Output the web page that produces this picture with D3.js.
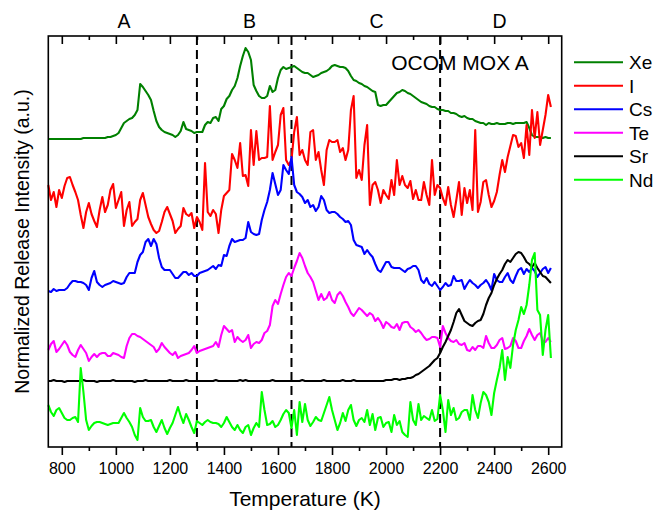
<!DOCTYPE html>
<html><head><meta charset="utf-8">
<script src="https://cdn.jsdelivr.net/npm/d3@7"></script>
<style>body{margin:0;background:#fff}svg{display:block}text{font-family:"Liberation Sans",Arial,sans-serif;fill:#000}</style>
</head><body><svg id="c" width="670" height="515"></svg>
<script>
// Temperature sampling grid (K)
const temps = [
750,760,770,780,790,800,810,820,830,840,
850,860,870,880,890,900,910,920,930,940,
950,960,970,980,990,1000,1010,1020,1030,1040,
1050,1060,1070,1080,1090,1100,1110,1120,1130,1140,
1150,1160,1170,1180,1190,1200,1210,1220,1230,1240,
1250,1260,1270,1280,1290,1300,1310,1320,1330,1340,
1350,1360,1370,1380,1390,1400,1410,1420,1430,1440,
1450,1460,1470,1480,1490,1500,1510,1520,1530,1540,
1550,1560,1570,1580,1590,1600,1610,1620,1630,1640,
1650,1660,1670,1680,1690,1700,1710,1720,1730,1740,
1750,1760,1770,1780,1790,1800,1810,1820,1830,1840,
1850,1860,1870,1880,1890,1900,1910,1920,1930,1940,
1950,1960,1970,1980,1990,2000,2010,2020,2030,2040,
2050,2060,2070,2080,2090,2100,2110,2120,2130,2140,
2150,2160,2170,2180,2190,2200,2210,2220,2230,2240,
2250,2260,2270,2280,2290,2300,2310,2320,2330,2340,
2350,2360,2370,2380,2390,2400,2410,2420,2430,2440,
2450,2460,2470,2480,2490,2500,2510,2520,2530,2540,
2550,2560,2570,2580,2590,2600,2610];

// Offset normalized release intensities (a.u.)
const xe = [
308,308,308,308,308,308,308,308,308,308,
308,308,308,309,309,309,309,309,309,309,
309,309,310,310,311,312,314,319,324,326,
328,329,332,337,363,360,356,352,347,336,
326,320,317,315,314,313,312,310,312,316,
325,318,317,316,314,315,315,315,322,325,
324,329,330,326,338,341,348,351,357,361,
369,381,391,399,395,387,362,356,351,349,
349,351,361,355,357,369,377,380,378,379,
380,381,379,377,375,374,374,372,370,371,
372,374,375,376,378,381,382,381,380,380,
379,376,371,367,366,364,363,361,360,358,
356,355,342,341,342,342,345,348,351,354,
355,357,356,354,353,351,349,347,345,344,
343,341,340,340,338,337,337,336,336,334,
334,333,331,330,331,329,328,328,326,325,
324,324,322,324,323,323,324,323,323,323,
324,324,323,324,324,324,324,325,319,312,
310,310,310,309,310,309,309];

const iod = [
262,247,255,240,257,249,261,269,270,262,
255,247,232,219,235,244,233,226,220,237,
250,235,242,257,263,239,247,255,221,237,
245,221,225,228,247,254,242,230,223,217,
214,216,225,235,240,233,226,214,218,221,
239,233,231,234,219,230,225,217,284,235,
231,237,233,214,237,251,254,257,293,287,
279,304,271,272,261,317,282,316,287,289,
289,290,341,287,295,302,332,339,287,282,
287,315,330,292,297,287,282,315,317,287,
295,277,262,297,307,305,305,307,295,299,
287,297,337,351,269,277,267,302,322,242,
262,265,257,244,257,252,248,267,252,287,
262,271,262,259,266,248,257,247,247,265,
252,242,287,252,262,259,249,242,260,242,
230,247,265,232,259,244,257,237,317,235,
245,265,267,252,240,246,255,272,287,275,
290,301,312,311,300,304,289,322,292,337,
309,335,302,317,332,352,340];

const cs = [
156,155,158,156,157,157,157,159,163,166,
166,165,165,164,162,157,169,176,165,162,
160,162,163,164,166,165,164,163,164,170,
174,174,174,185,192,195,205,208,201,208,
203,189,180,177,177,177,173,169,169,172,
175,175,172,174,171,171,174,175,176,177,
179,181,178,182,181,192,191,201,208,205,
206,207,207,209,225,215,213,212,213,227,
237,245,257,274,263,252,257,282,277,273,
290,262,255,253,250,244,247,240,242,236,
240,251,247,237,234,235,235,233,230,228,
225,226,222,207,202,201,200,193,197,193,
190,183,177,175,180,185,185,180,179,179,
179,177,175,178,179,181,181,177,167,164,
169,163,161,165,161,157,160,164,161,162,
171,166,166,167,158,163,167,164,162,159,
162,164,167,163,157,173,167,165,165,170,
174,167,164,171,177,179,173,178,175,179,
176,170,174,178,180,174,179];

const te = [
97,103,106,95,98,102,106,102,95,92,
90,97,102,98,94,86,90,93,90,93,
94,94,91,91,94,93,92,90,89,101,
109,113,113,111,110,108,106,104,102,100,
95,98,104,100,97,94,92,95,89,91,
92,93,94,97,101,94,96,97,98,99,
100,101,105,100,112,121,118,115,117,105,
110,107,105,107,112,99,103,105,104,107,
114,116,122,141,147,143,153,162,170,174,
171,179,186,194,189,181,174,170,165,156,
147,153,147,149,155,147,144,152,155,151,
145,140,134,131,135,139,137,134,131,134,
132,126,129,125,119,125,123,120,119,123,
117,124,125,125,120,118,115,117,114,110,
107,108,110,110,109,100,121,114,109,106,
105,107,103,102,104,97,96,100,97,101,
101,99,111,104,99,99,102,107,109,98,
99,101,109,106,99,99,106,111,118,112,
107,112,114,106,105,109,105];

const sr = [
66,66,67,66,66,66,65,66,66,66,
66,66,66,67,66,66,66,66,65,66,
66,66,66,66,67,66,66,66,66,66,
66,66,65,66,66,66,67,66,66,66,
66,66,66,66,66,67,66,66,66,66,
66,67,66,66,66,66,66,66,66,66,
66,66,67,66,66,66,66,66,66,66,
66,67,66,67,66,66,66,66,66,66,
66,66,66,67,66,66,66,66,66,66,
66,66,66,66,67,66,66,66,66,66,
66,66,67,66,66,66,66,66,66,67,
66,66,66,67,66,66,66,66,66,66,
66,66,66,66,66,67,67,67,68,68,
67,68,68,69,69,70,72,73,75,77,
79,81,84,87,89,94,100,105,111,117,
125,134,138,132,126,124,122,121,124,126,
127,133,142,149,154,162,168,173,177,183,
187,185,189,193,195,194,190,185,183,180,
184,179,175,171,170,167,164];

const nd = [
42,35,31,37,39,34,29,27,27,29,
30,25,79,55,27,17,21,24,25,25,
24,23,22,23,24,24,24,29,34,29,
25,20,12,7,39,30,26,26,27,20,
15,21,27,19,13,19,24,32,40,31,
24,33,27,20,14,26,24,22,25,27,
25,24,24,23,20,24,30,25,20,17,
22,17,14,20,22,12,19,24,20,55,
37,22,23,26,20,22,27,33,37,34,
19,37,12,45,25,43,27,21,25,30,
27,26,34,42,50,37,27,17,24,34,
26,37,42,27,21,27,29,25,37,22,
33,17,29,30,20,24,25,15,32,22,
26,15,12,10,45,27,22,43,27,31,
29,27,37,26,28,52,37,15,47,32,
39,27,29,35,37,37,27,52,37,29,
44,55,52,45,32,54,67,79,97,67,
90,79,102,117,127,140,133,142,162,187,
194,137,132,92,117,132,89];

const seriesNames = ["Xe", "I", "Cs", "Te", "Sr", "Nd"];
const seriesValues = [xe, iod, cs, te, sr, nd];
const seriesColors = ["#008000", "#ff0000", "#0000ff", "#ff00ff", "#000000", "#00ff00"];
const regionBounds = [1300, 1650, 2200];
const regionLabels = ["A", "B", "C", "D"];
const regionLabelTemps = [1030, 1495, 1965, 2420];
const majorTicks = [800, 1000, 1200, 1400, 1600, 1800, 2000, 2200, 2400, 2600];
const minorTicks = [900, 1100, 1300, 1500, 1700, 1900, 2100, 2300, 2500];
const sampleLabel = "OCOM MOX A";
const xTitle = "Temperature (K)";
const yTitle = "Normalized Release Intensity (a.u.)";

const L = 48.3, R = 561.7, T = 36, B = 447;
const svg = d3.select("#c");
const x = d3.scaleLinear().domain([750, 2650]).range([L, R]);
const y = d3.scaleLinear().domain([0, 411]).range([B, T]);

// region dividers
svg.append("g").selectAll("line").data(regionBounds).join("line")
  .attr("x1", d => x(d)).attr("x2", d => x(d))
  .attr("y1", T).attr("y2", B)
  .attr("stroke", "#000").attr("stroke-width", 2)
  .attr("stroke-dasharray", "9,5");

// series
const line = d3.line().x((d, i) => x(temps[i])).y(d => y(d));
svg.append("g").selectAll("path").data(seriesValues).join("path")
  .attr("d", d => line(d))
  .attr("fill", "none")
  .attr("stroke", (d, i) => seriesColors[i])
  .attr("stroke-width", 2.1)
  .attr("stroke-linejoin", "round");

// frame
svg.append("rect").attr("x", L).attr("y", T).attr("width", R - L).attr("height", B - T)
  .attr("fill", "none").attr("stroke", "#000").attr("stroke-width", 1.6);

// bottom axis
const gB = svg.append("g").attr("transform", `translate(0,${B})`)
  .call(d3.axisBottom(x).tickValues(majorTicks).tickSize(8).tickPadding(8).tickFormat(d3.format("d")));
gB.select(".domain").remove();
gB.selectAll("line").attr("stroke-width", 1.6);
gB.selectAll("text").attr("font-size", 16).attr("font-family", '"Liberation Sans",Arial,sans-serif');
const gBm = svg.append("g").attr("transform", `translate(0,${B})`)
  .call(d3.axisBottom(x).tickValues(minorTicks).tickSize(4).tickFormat(""));
gBm.select(".domain").remove();
gBm.selectAll("line").attr("stroke-width", 1.6);

// top axis (ticks inward)
const gT = svg.append("g").attr("transform", `translate(0,${T})`)
  .call(d3.axisBottom(x).tickValues(majorTicks).tickSize(8).tickFormat(""));
gT.select(".domain").remove();
gT.selectAll("line").attr("stroke-width", 1.6);
const gTm = svg.append("g").attr("transform", `translate(0,${T})`)
  .call(d3.axisBottom(x).tickValues(minorTicks).tickSize(4).tickFormat(""));
gTm.select(".domain").remove();
gTm.selectAll("line").attr("stroke-width", 1.6);

// region labels
svg.append("g").selectAll("text").data(regionLabels).join("text")
  .attr("x", (d, i) => x(regionLabelTemps[i])).attr("y", 28)
  .attr("text-anchor", "middle").attr("font-size", 19.5).text(d => d);

// sample label
svg.append("text").attr("x", 460).attr("y", 70).attr("text-anchor", "middle")
  .attr("font-size", 21).text(sampleLabel);

// axis titles
svg.append("text").attr("x", (L + R) / 2).attr("y", 506).attr("text-anchor", "middle")
  .attr("font-size", 21).text(xTitle);
svg.append("text").attr("transform", `translate(29,${(T + B) / 2}) rotate(-90)`)
  .attr("text-anchor", "middle").attr("font-size", 19.5).text(yTitle);

// legend
const lg = svg.append("g").selectAll("g").data(seriesNames).join("g")
  .attr("transform", (d, i) => `translate(0,${62.3 + i * 23.5})`);
lg.append("line").attr("x1", 574).attr("x2", 623).attr("y1", 0).attr("y2", 0)
  .attr("stroke", (d, i) => seriesColors[i]).attr("stroke-width", 2);
lg.append("text").attr("x", 629).attr("y", 7).attr("font-size", 19).text(d => d);
</script></body></html>
